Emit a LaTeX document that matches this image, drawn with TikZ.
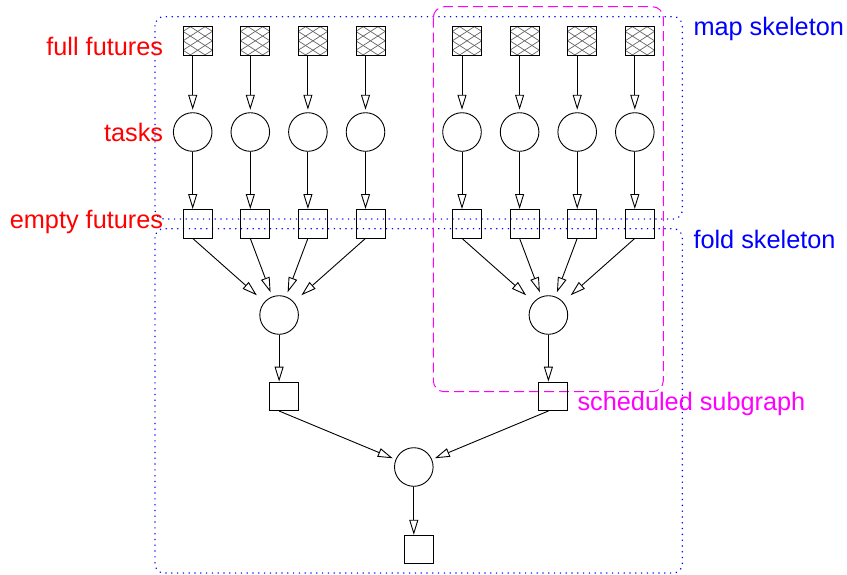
\documentclass[tikz,border=0pt]{standalone}
\usepackage{fontspec}
\setmainfont{Liberation Sans}
\usetikzlibrary{arrows.meta}

\definecolor{skelblue}{RGB}{0,0,255}
\definecolor{labred}{RGB}{255,0,0}
\definecolor{schedmag}{RGB}{255,0,255}

\tikzset{
  futbox/.style={draw, line width=0.9pt, minimum width=29pt, minimum height=28.5pt, inner sep=0pt},
  hatchline/.style={draw=black!60, line width=0.7pt},
  fullbox/.style={futbox, path picture={
      \foreach \k in {-4,...,4}{
        \draw[hatchline] ([shift={(-20,{\k*9.4-12.8})}]path picture bounding box.center) -- ++(40,25.6);
        \draw[hatchline] ([shift={(-20,{\k*9.4+12.8})}]path picture bounding box.center) -- ++(40,-25.6);
      }}},
  task/.style={draw, circle, line width=0.9pt, minimum size=38.6pt, inner sep=0pt},
  flow/.style={line width=0.9pt, -{Triangle[open, length=15pt, width=9pt, line width=0.9pt]}},
  lab/.style={font=\fontsize{25.3}{30}\selectfont, inner sep=0pt},
  skel/.style={skelblue, line width=1.4pt, line cap=round, dash pattern=on 0.3pt off 5.5pt, rounded corners=9pt},
  sched/.style={schedmag, line width=1pt, dash pattern=on 10pt off 5pt, rounded corners=11pt},
}

\begin{document}
\begin{tikzpicture}[x=1pt, y=-1pt]
  \useasboundingbox (0,0) rectangle (847,574);

  % skeleton regions and the scheduled subgraph
  \draw[skel] (155,16.7) rectangle (682.3,219);
  \draw[skel] (155,228.7) rectangle (682.3,573);
  \draw[sched] (433.3,6.7) rectangle (663.3,391.7);

  % map stage: full future -> task -> empty future
  \foreach \i/\x in {1/192.7, 2/250.3, 3/307.9, 4/365.5, 5/462, 6/519.6, 7/577.2, 8/634.8}{
    \node[fullbox] (h\i) at (\x+5, 40.8) {};
    \node[task] (t\i) at (\x, 132) {};
    \node[futbox] (e\i) at (\x+5, 223.7) {};
    \draw[flow, shorten >=2.5pt] (h\i.south -| t\i) -- (t\i);
    \draw[flow] (t\i) -- (t\i |- e\i.north);
  }

  % fold stage
  \node[task] (fl) at (279.1, 315) {};
  \node[task] (fr) at (548.4, 315) {};
  \node[futbox] (rl) at (284.1, 396.3) {};
  \node[futbox] (rr) at (553.4, 396.3) {};
  \node[task] (fb) at (413.8, 467) {};
  \node[futbox] (rb) at (418.8, 549.5) {};

  \draw[flow, shorten >=10pt]  (e1.south -| t1) -- (fl);
  \draw[flow, shorten >=4.5pt] (e2.south -| t2) -- (fl);
  \draw[flow, shorten >=4.5pt] (e3.south -| t3) -- (fl);
  \draw[flow, shorten >=10pt]  (e4.south -| t4) -- (fl);
  \draw[flow, shorten >=10pt]  (e5.south -| t5) -- (fr);
  \draw[flow, shorten >=4.5pt] (e6.south -| t6) -- (fr);
  \draw[flow, shorten >=4.5pt] (e7.south -| t7) -- (fr);
  \draw[flow, shorten >=10pt]  (e8.south -| t8) -- (fr);

  \draw[flow] (fl) -- (fl |- rl.north);
  \draw[flow] (fr) -- (fr |- rr.north);
  \draw[flow, shorten >=3pt] (rl.south -| fl) -- (fb);
  \draw[flow, shorten >=3pt] (rr.south -| fr) -- (fb);
  \draw[flow] (fb) -- (fb |- rb.north);

  % labels
  \node[lab, labred, anchor=base east] (lfull) at (163.3, 55) {full futures};
  \node[lab, labred, anchor=base east] (ltask) at (163.3, 141.7) {tasks};
  \node[lab, labred, anchor=base east] (lempty) at (163.3, 228.3) {empty futures};
  \node[lab, skelblue, anchor=base west] (lmap) at (693.3, 35) {map skeleton};
  \node[lab, skelblue, anchor=base west] (lfold) at (693.3, 248.3) {fold skeleton};
  \node[lab, schedmag, anchor=base west] (lsched) at (577.3, 410.7) {scheduled subgraph};
\end{tikzpicture}
\end{document}
